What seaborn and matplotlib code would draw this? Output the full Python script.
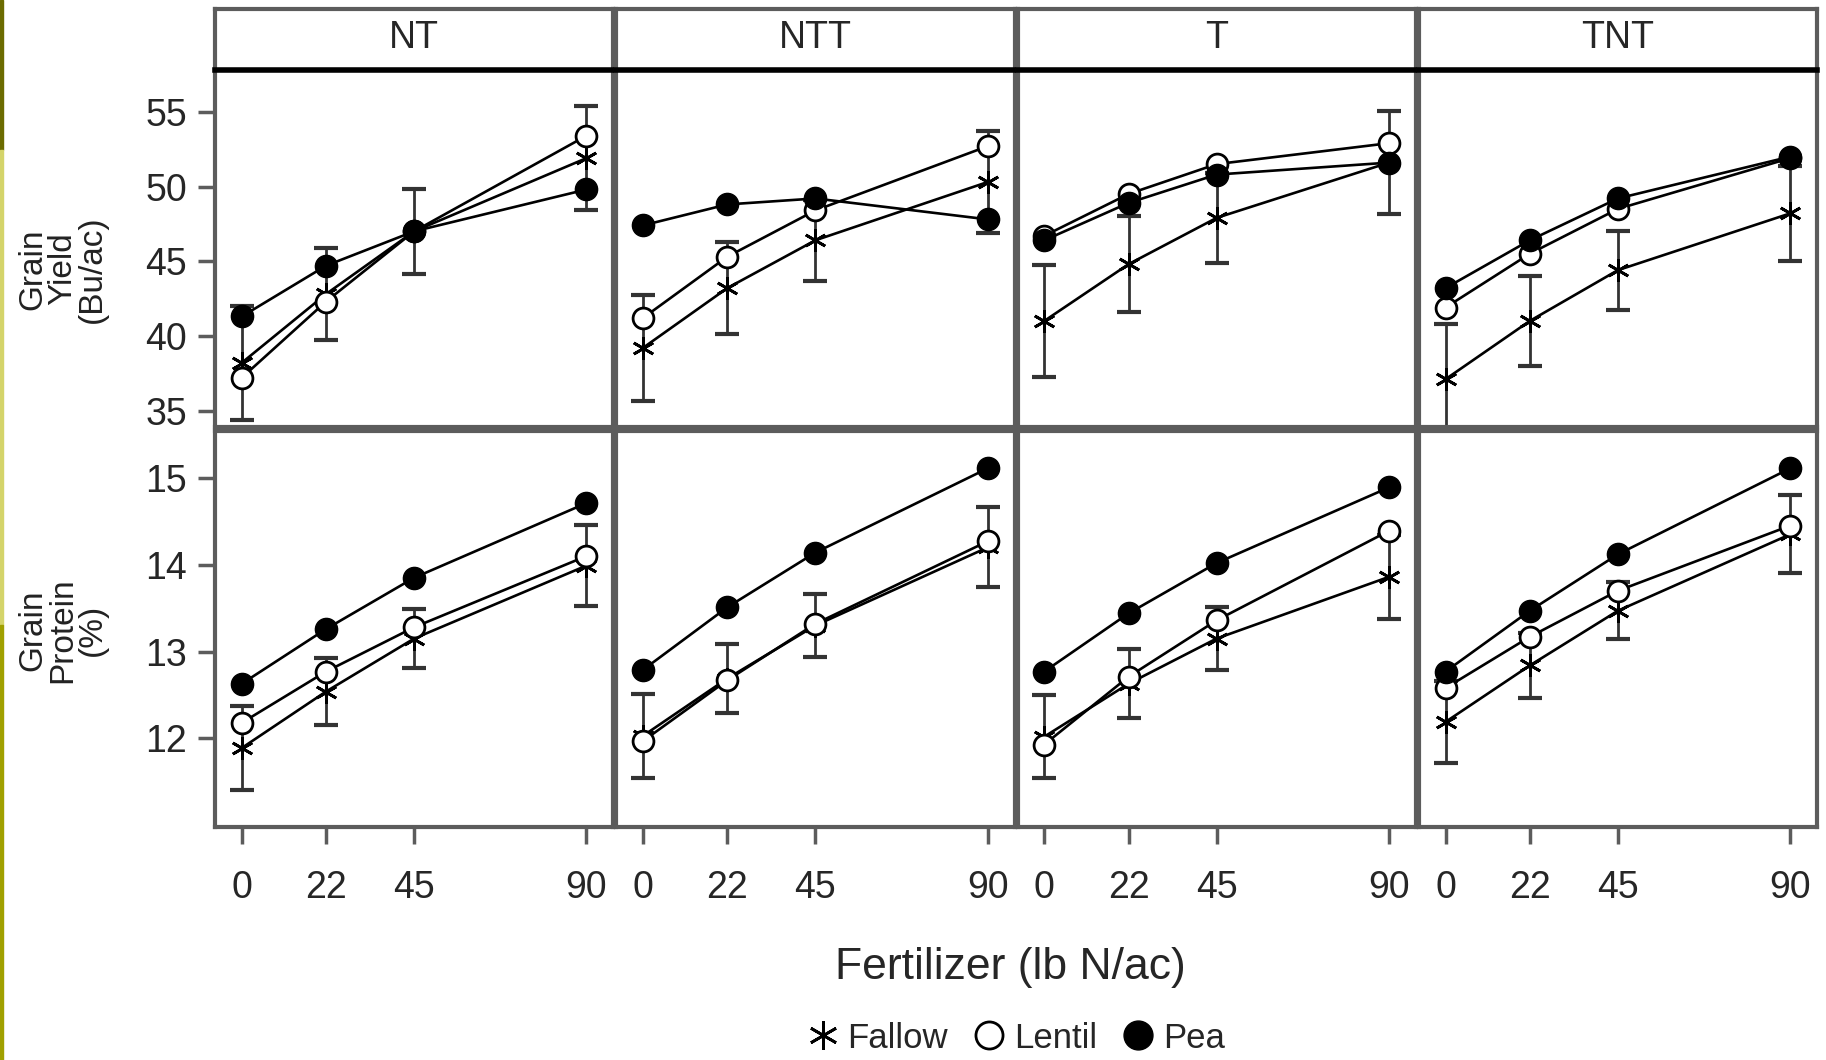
import numpy as np
import pandas as pd
import matplotlib
matplotlib.use("Agg")
import matplotlib.pyplot as plt
import seaborn as sns
from matplotlib.lines import Line2D
from matplotlib.patches import Rectangle

# data
fert = [0, 22, 45, 90]
tillage = ["NT", "NTT", "T", "TNT"]
crops = ["Fallow", "Lentil", "Pea"]

# grain yield (Bu/ac), one row per tillage system
yield_fallow = [[38.2, 42.8, 47.0, 51.9], [39.2, 43.2, 46.4, 50.3],
                [41.0, 44.8, 47.9, 51.6], [37.1, 41.0, 44.4, 48.2]]
yield_lentil = [[37.2, 42.3, 47.0, 53.4], [41.2, 45.3, 48.4, 52.7],
                [46.7, 49.5, 51.5, 52.9], [41.9, 45.5, 48.5, 51.9]]
yield_pea = [[41.3, 44.7, 47.0, 49.8], [47.4, 48.8, 49.2, 47.8],
             [46.4, 48.9, 50.8, 51.6], [43.2, 46.4, 49.2, 52.0]]
yield_err = [[3.8, 3.1, 2.85, 3.5], [3.55, 3.1, 2.7, 3.4],
             [3.75, 3.2, 3.0, 3.45], [3.7, 3.0, 2.65, 3.2]]

# grain protein (%)
prot_fallow = [[11.89, 12.54, 13.15, 13.99], [12.03, 12.69, 13.30, 14.20],
               [12.02, 12.63, 13.15, 13.86], [12.19, 12.84, 13.47, 14.35]]
prot_lentil = [[12.18, 12.77, 13.28, 14.10], [11.97, 12.67, 13.32, 14.27],
               [11.93, 12.71, 13.36, 14.39], [12.58, 13.17, 13.70, 14.45]]
prot_pea = [[12.63, 13.26, 13.85, 14.71], [12.79, 13.51, 14.14, 15.11],
            [12.77, 13.44, 14.02, 14.89], [12.77, 13.47, 14.12, 15.11]]
prot_err = [[0.48, 0.39, 0.34, 0.47], [0.48, 0.40, 0.36, 0.46],
            [0.48, 0.40, 0.36, 0.48], [0.47, 0.37, 0.33, 0.45]]

yield_ticks = [35, 40, 45, 50, 55]
prot_ticks = [12, 13, 14, 15]

# long-form table
rows = []
for resp, series in [("yield", [yield_fallow, yield_lentil, yield_pea]),
                     ("protein", [prot_fallow, prot_lentil, prot_pea])]:
    for crop, vals in zip(crops, series):
        for ti, till in enumerate(tillage):
            for fi, f in enumerate(fert):
                rows.append({"resp": resp, "crop": crop, "tillage": till,
                             "fert": f, "value": vals[ti][fi]})
df = pd.DataFrame(rows)

sns.set_style("white")
plt.rcParams["font.family"] = ["Liberation Sans", "DejaVu Sans"]

W, H = 1826, 1060
fig = plt.figure(figsize=(W / 100, H / 100), dpi=100)

# olive bar at the left edge
fig.patches.append(Rectangle((0, 1 - 150 / H), 3 / W, 150 / H, transform=fig.transFigure, color="#6b6b00"))
fig.patches.append(Rectangle((0, 1 - 625 / H), 3 / W, 475 / H, transform=fig.transFigure, color="#d4d46a"))
fig.patches.append(Rectangle((0, 0), 3 / W, 1 - 625 / H, transform=fig.transFigure, color="#a0a000"))

left0, right_end, gap = 215, 1817, 3
cw = (right_end - left0 - 3 * gap) / 4
top_rows = {"yield": (70, 427), "protein": (431, 827)}
strip_y = (9, 68)

style = {
    "Fallow": dict(marker=(6, 2, 0), markersize=16, markeredgewidth=2.0, markerfacecolor="black", zorder=3),
    "Lentil": dict(marker="o", markersize=15, markeredgewidth=2.0, markerfacecolor="white", zorder=4),
    "Pea": dict(marker="o", markersize=16, markeredgewidth=1.0, markerfacecolor="black", zorder=5),
}
spine_c = "#5c5c5c"
tick_fs = 27

for ti, till in enumerate(tillage):
    x0 = left0 + ti * (cw + gap)
    # strip
    sax = fig.add_axes([x0 / W, 1 - strip_y[1] / H, cw / W, (strip_y[1] - strip_y[0]) / H])
    sax.set_xticks([])
    sax.set_yticks([])
    for s in sax.spines.values():
        s.set_color(spine_c)
        s.set_linewidth(3)
    sax.spines["bottom"].set_visible(False)
    sax.text(0.5, 0.5, till, ha="center", va="center", fontsize=27, transform=sax.transAxes)

    for resp, (yt, yb) in top_rows.items():
        ax = fig.add_axes([x0 / W, 1 - yb / H, cw / W, (yb - yt) / H])
        sub = df[(df.resp == resp) & (df.tillage == till)]
        err = yield_err[ti] if resp == "yield" else prot_err[ti]
        centre = (yield_fallow if resp == "yield" else prot_fallow)[ti]
        ax.errorbar(fert, centre, yerr=err, fmt="none", ecolor="#333333",
                    elinewidth=2.0, capsize=8.5, capthick=3.0, zorder=2)
        for crop in crops:
            sns.lineplot(data=sub[sub.crop == crop], x="fert", y="value", ax=ax,
                         color="black", linewidth=1.9, errorbar=None,
                         markeredgecolor="black", **style[crop])
        ax.set_xlim(-7, 97)
        if resp == "yield":
            ax.set_ylim(33.9, 57.8)
            ax.set_yticks(yield_ticks)
            ax.tick_params(axis="x", bottom=False, labelbottom=False)
        else:
            ax.set_ylim(10.98, 15.54)
            ax.set_yticks(prot_ticks)
            ax.set_xticks(fert)
            ax.tick_params(axis="x", bottom=True, direction="out", length=12, width=2.5,
                           color=spine_c, labelsize=tick_fs, pad=19)
        if ti == 0:
            ax.tick_params(axis="y", left=True, direction="out", length=12, width=2.5,
                           color=spine_c, labelsize=tick_fs, pad=8)
        else:
            ax.tick_params(axis="y", left=False, labelleft=False)
        ax.set_xlabel("")
        ax.set_ylabel("")
        for s in ax.spines.values():
            s.set_color(spine_c)
            s.set_linewidth(3)
        if resp == "yield":
            ax.spines["top"].set_color("black")
            ax.spines["top"].set_linewidth(4)

# row labels
fig.text(63 / W, 1 - 269 / H, "Grain\nYield\n(Bu/ac)", rotation=90, ha="center", va="center",
         fontsize=24, linespacing=0.95, color="#222222")
fig.text(63 / W, 1 - 630 / H, "Grain\nProtein\n(%)", rotation=90, ha="center", va="center",
         fontsize=24, linespacing=0.95, color="#222222")

fig.text(1010 / W, 1 - 967 / H, "Fertilizer (lb N/ac)", ha="center", va="center", fontsize=32)

handles = [Line2D([], [], color="black", linestyle="none", markeredgecolor="black", **style[c]) for c in crops]
fig.legend(handles, crops, loc="center", bbox_to_anchor=(1015 / W, 1 - 1038 / H), ncol=3,
           frameon=False, fontsize=25, markerscale=1.3, handletextpad=0.2, columnspacing=0.7,
           handlelength=1.0)

fig.savefig("out.png", dpi=100, facecolor="white")
